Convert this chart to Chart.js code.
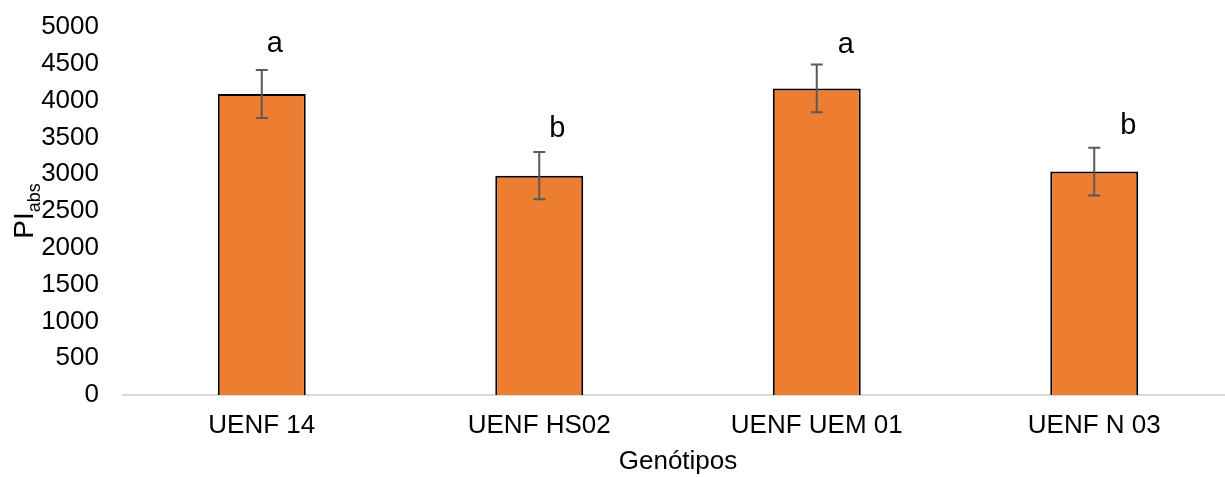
<!DOCTYPE html>
<html lang="pt">
<head>
<meta charset="utf-8">
<title>PIabs por genótipo</title>
<script src="https://cdn.jsdelivr.net/npm/chart.js@4"></script>
<style>
  html, body { margin: 0; padding: 0; background: #fff; overflow: hidden; }
  #wrap { width: 1233px; height: 477px; }
</style>
</head>
<body>
<div id="wrap"><canvas id="grafico"></canvas></div>
<script>
// dados
const genotipos = ['UENF 14', 'UENF HS02', 'UENF UEM 01', 'UENF N 03'];
const piAbs = [4090, 2980, 4165, 3035];
const erroPadrao = [325, 322, 324, 324];
const letras = ['a', 'b', 'a', 'b'];
const yMin = 0, yMax = 5000, yPasso = 500;

const fonte = '"Liberation Sans", Arial, sans-serif';

// barras de erro + letras de significância
const errosELetras = {
    id: 'errosELetras',
    afterDatasetsDraw(chart, args, opts) {
        const ctx = chart.ctx;
        const y = chart.scales.y;
        const meta = chart.getDatasetMeta(0);
        ctx.save();
        meta.data.forEach((bar, i) => {
            const topo = y.getPixelForValue(piAbs[i] + erroPadrao[i]);
            const base = y.getPixelForValue(piAbs[i] - erroPadrao[i]);
            ctx.strokeStyle = '#595959';
            ctx.lineWidth = 2;
            ctx.beginPath();
            ctx.moveTo(bar.x, topo); ctx.lineTo(bar.x, base);
            ctx.moveTo(bar.x - 6, topo); ctx.lineTo(bar.x + 6, topo);
            ctx.moveTo(bar.x - 6, base); ctx.lineTo(bar.x + 6, base);
            ctx.stroke();

            ctx.fillStyle = '#000';
            ctx.font = '29px ' + fonte;
            ctx.textAlign = 'center';
            ctx.textBaseline = 'alphabetic';
            ctx.fillText(letras[i], bar.x + opts.dx[i], topo + opts.dy[i]);
        });
        ctx.restore();
    }
};

// título do eixo y com subscrito (PI abs)
const tituloY = {
    id: 'tituloY',
    afterDraw(chart) {
        const ctx = chart.ctx;
        const area = chart.chartArea;
        ctx.save();
        ctx.translate(33, (area.top + area.bottom) / 2);
        ctx.rotate(-Math.PI / 2);
        ctx.fillStyle = '#000';
        ctx.textBaseline = 'alphabetic';
        ctx.font = '28px ' + fonte;
        const wPI = ctx.measureText('PI').width;
        ctx.font = '18px ' + fonte;
        const wAbs = ctx.measureText('abs').width;
        const x0 = -(wPI + wAbs) / 2;
        ctx.font = '28px ' + fonte;
        ctx.textAlign = 'left';
        ctx.fillText('PI', x0, 0);
        ctx.font = '18px ' + fonte;
        ctx.fillText('abs', x0 + wPI, 7);
        ctx.restore();
    }
};

new Chart(document.getElementById('grafico'), {
    type: 'bar',
    data: {
        labels: genotipos,
        datasets: [{
            data: piAbs,
            backgroundColor: '#ED7D31',
            borderColor: '#000',
            borderWidth: 2,
            borderSkipped: 'bottom',
            barPercentage: 0.317,
            categoryPercentage: 1
        }]
    },
    options: {
        responsive: true,
        maintainAspectRatio: false,
        animation: false,
        layout: { padding: { top: 27, right: 0, left: 0, bottom: 0 } },
        plugins: {
            legend: { display: false },
            tooltip: { enabled: false },
            errosELetras: { dx: [13, 18, 29, 34], dy: [-18, -15, -12, -14] }
        },
        scales: {
            x: {
                grid: { display: false },
                border: { display: true, color: '#d9d9d9', width: 2 },
                ticks: { color: '#000', font: { family: fonte, size: 26 }, padding: 7, maxRotation: 0 },
                title: { display: true, text: 'Genótipos', color: '#000', font: { family: fonte, size: 26 }, padding: { top: 6, bottom: 0 } },
                afterFit(scale) { scale.height = 82; }
            },
            y: {
                min: yMin,
                max: yMax,
                grid: { display: false },
                border: { display: false },
                ticks: {
                    stepSize: yPasso,
                    color: '#000',
                    font: { family: fonte, size: 26 },
                    padding: 16,
                    callback: (v) => String(v)
                },
                afterFit(scale) {
                    scale.width = 123;
                    scale.paddingTop = 0;
                    scale.paddingBottom = 0;
                }
            }
        }
    },
    plugins: [errosELetras, tituloY]
});
</script>
</body>
</html>
